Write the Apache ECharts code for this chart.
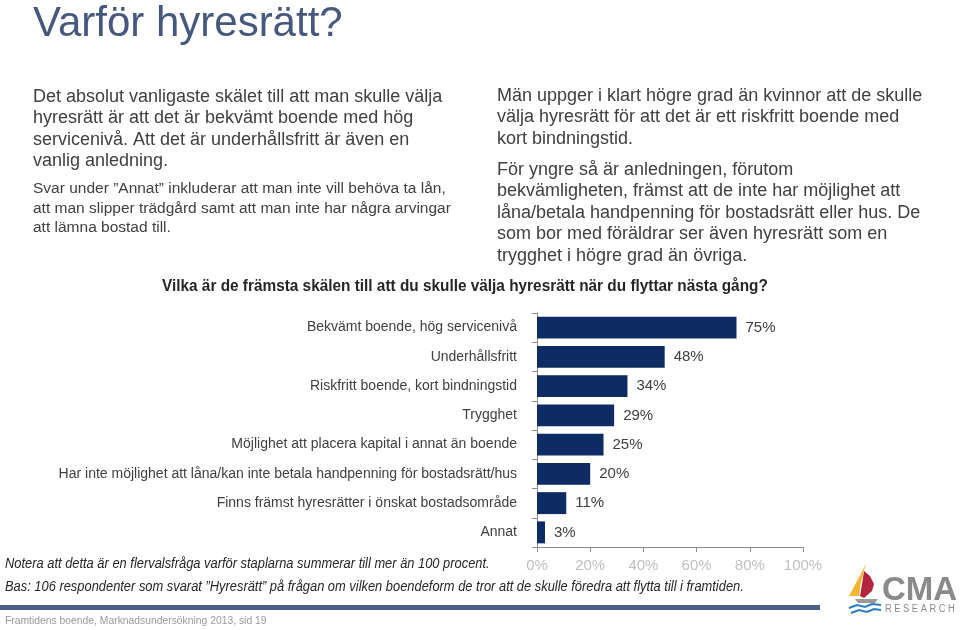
<!DOCTYPE html>
<html>
<head>
<meta charset="utf-8">
<script src="https://cdn.jsdelivr.net/npm/echarts@6/dist/echarts.min.js"></script>
<style>html,body{margin:0;padding:0;background:#fff}#c{width:960px;height:630px}</style>
</head>
<body>
<div id="c"></div>
<script>
const categories = [
  'Bekvämt boende, hög servicenivå',
  'Underhållsfritt',
  'Riskfritt boende, kort bindningstid',
  'Trygghet',
  'Möjlighet att placera kapital i annat än boende',
  'Har inte möjlighet att låna/kan inte betala handpenning för bostadsrätt/hus',
  'Finns främst hyresrätter i önskat bostadsområde',
  'Annat'
];
const values = [75, 48, 34, 29, 25, 20, 11, 3];
const xTicks = [0, 20, 40, 60, 80, 100];

const FONT = '"Liberation Sans", Arial, sans-serif';

const leftText1 = 'Det absolut vanligaste skälet till att man skulle välja\nhyresrätt är att det är bekvämt boende med hög\nservicenivå. Att det är underhållsfritt är även en\nvanlig anledning.';
const leftText2 = 'Svar under ”Annat” inkluderar att man inte vill behöva ta lån,\natt man slipper trädgård samt att man inte har några arvingar\natt lämna bostad till.';
const rightText1 = 'Män uppger i klart högre grad än kvinnor att de skulle\nvälja hyresrätt för att det är ett riskfritt boende med\nkort bindningstid.';
const rightText2 = 'För yngre så är anledningen, förutom\nbekvämligheten, främst att de inte har möjlighet att\nlåna/betala handpenning för bostadsrätt eller hus. De\nsom bor med föräldrar ser även hyresrätt som en\ntrygghet i högre grad än övriga.';

const chart = echarts.init(document.getElementById('c'), null, {renderer: 'canvas'});
chart.setOption({
  animation: false,
  backgroundColor: '#ffffff',
  grid: {left: 537, right: 157, top: 313, bottom: 83, containLabel: false},
  xAxis: {
    type: 'value', min: xTicks[0], max: xTicks[xTicks.length - 1], interval: 20,
    axisLine: {show: true, lineStyle: {color: '#8c8c8c'}},
    axisTick: {show: true, length: 5, lineStyle: {color: '#8c8c8c'}},
    splitLine: {show: false},
    axisLabel: {formatter: '{value}%', color: '#c0c0c0', fontSize: 15, fontFamily: FONT, margin: 11}
  },
  yAxis: {
    type: 'category', data: categories, inverse: true,
    axisLine: {show: true, lineStyle: {color: '#8c8c8c'}},
    axisTick: {show: true, length: 5, alignWithLabel: false, lineStyle: {color: '#8c8c8c'}},
    axisLabel: {color: '#404040', fontSize: 14, fontFamily: FONT, margin: 20}
  },
  series: [{
    type: 'bar', data: values, barCategoryGap: '25%',
    itemStyle: {color: '#0e2b63'},
    label: {show: true, position: 'right', distance: 9, formatter: '{c}%', color: '#404040', fontSize: 15, fontFamily: FONT}
  }],
  graphic: [
    {type: 'text', left: 33, top: 3, style: {text: 'Varför hyresrätt?', fill: '#46597d', font: '42px ' + FONT}},
    {type: 'text', left: 33, top: 86, style: {text: leftText1, fill: '#404040', font: '18px ' + FONT, lineHeight: 21.5}},
    {type: 'text', left: 33, top: 179, style: {text: leftText2, fill: '#404040', font: '15.5px ' + FONT, lineHeight: 19.5}},
    {type: 'text', left: 497, top: 85, style: {text: rightText1, fill: '#404040', font: '18px ' + FONT, lineHeight: 21.5}},
    {type: 'text', left: 497, top: 159, style: {text: rightText2, fill: '#404040', font: '18px ' + FONT, lineHeight: 21.5}},
    {type: 'text', x: 162, y: 279, scaleX: 0.96, style: {text: 'Vilka är de främsta skälen till att du skulle välja hyresrätt när du flyttar nästa gång?', fill: '#262626', font: 'bold 16px ' + FONT}},
    {type: 'text', x: 5, y: 557, scaleX: 0.92, style: {text: 'Notera att detta är en flervalsfråga varför staplarna summerar till mer än 100 procent.', fill: '#262626', font: 'italic 14px ' + FONT}},
    {type: 'text', x: 5, y: 580, scaleX: 0.92, style: {text: 'Bas: 106 respondenter som svarat ”Hyresrätt” på frågan om vilken boendeform de tror att de skulle föredra att flytta till i framtiden.', fill: '#262626', font: 'italic 14px ' + FONT}},
    {type: 'rect', shape: {x: 0, y: 605, width: 820, height: 5}, style: {fill: '#4b5f88'}},
    {type: 'text', x: 5, y: 615, scaleX: 0.94, style: {text: 'Framtidens boende, Marknadsundersökning 2013, sid 19', fill: '#9a9a9a', font: '11px ' + FONT}},
    // logo
    {type: 'polygon', shape: {points: [[864, 571], [870, 576], [874, 584], [872, 591], [864, 598], [860, 596], [862, 584]]}, style: {fill: '#b3243f'}},
    {type: 'polygon', shape: {points: [[866, 564], [849, 596], [859, 596], [861, 582]]}, style: {fill: '#f2b630'}},
    {type: 'polygon', shape: {points: [[855, 599], [878, 599], [875, 603], [858, 603]]}, style: {fill: '#9a9a9a'}},
    {type: 'polyline', shape: {points: [[849, 608], [857, 605], [865, 607], [872, 604], [881, 605]]}, style: {stroke: '#2a7fc1', lineWidth: 2, fill: null}},
    {type: 'polyline', shape: {points: [[851, 613], [859, 610], [867, 612], [874, 609], [881, 610]]}, style: {stroke: '#2a7fc1', lineWidth: 2, fill: null}},
    {type: 'text', left: 882, top: 574, style: {text: 'CMA', fill: '#8a8a8a', font: 'bold 33px ' + FONT}},
    {type: 'text', x: 885, y: 604, scaleX: 0.93, style: {text: 'R E S E A R C H', fill: '#8a8a8a', font: '10px ' + FONT}}
  ]
});
</script>
</body>
</html>
